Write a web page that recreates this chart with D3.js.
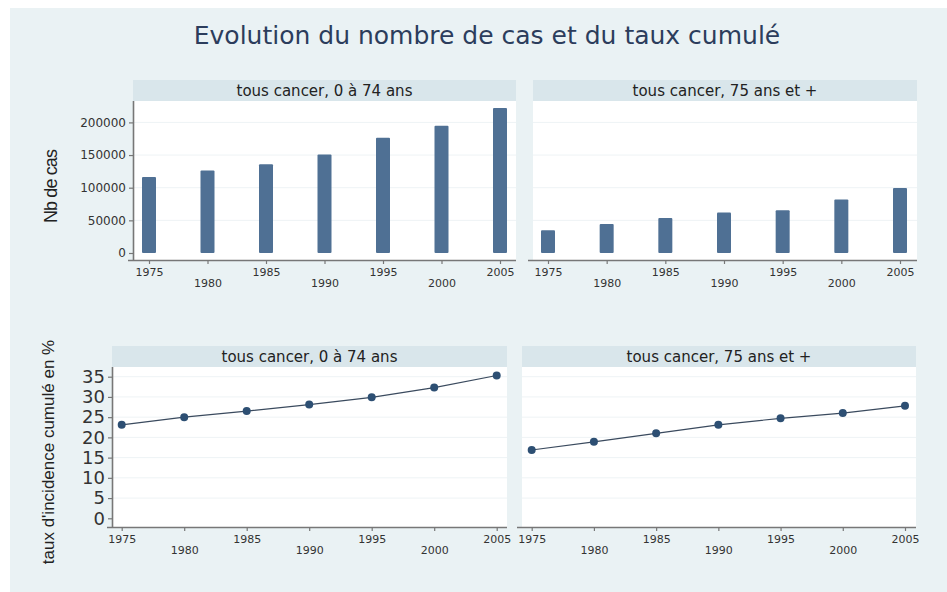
<!DOCTYPE html>
<html>
<head>
<meta charset="utf-8">
<script src="https://cdn.jsdelivr.net/npm/d3@7"></script>
<style>
    body { margin: 0; background: #fff; }
    svg { display: block; }
    .tick text { fill: #333; }
</style>
</head>
<body>
<svg id="chart" width="947" height="592"></svg>
<script>
// data
const years = [1975, 1980, 1985, 1990, 1995, 2000, 2005]
const casYoung = [116500, 126500, 136000, 151000, 176500, 195000, 222000]
const casOld = [35000, 44500, 53500, 62000, 65500, 82000, 99500]
const tauxYoung = [23.1, 25.0, 26.5, 28.1, 29.9, 32.3, 35.3]
const tauxOld = [16.9, 18.9, 21.0, 23.1, 24.7, 26.0, 27.8]
const casTicks = [0, 50000, 100000, 150000, 200000]
const tauxTicks = [0, 5, 10, 15, 20, 25, 30, 35]
const labelYoung = "tous cancer, 0 à 74 ans"
const labelOld = "tous cancer, 75 ans et +"

const svg = d3.select("#chart")
const font = "'DejaVu Sans', Verdana, sans-serif"

svg.append("rect")
    .attr("x", 10).attr("y", 8)
    .attr("width", 937).attr("height", 584)
    .attr("fill", "#eaf2f4")

svg.append("text")
    .attr("x", 487).attr("y", 44)
    .attr("text-anchor", "middle")
    .attr("font-family", font)
    .attr("font-size", 25)
    .attr("fill", "#2c3d5c")
    .text("Evolution du nombre de cas et du taux cumulé")

function panel(opt) {
    let g = svg.append("g")
    let x = d3.scaleLinear().domain([1975, 2005]).range(opt.xr)
    let y = d3.scaleLinear().domain(opt.ydom).range(opt.yr)

    // header strip
    g.append("rect")
        .attr("x", opt.left).attr("y", opt.top - 21)
        .attr("width", opt.right - opt.left).attr("height", 21)
        .attr("fill", "#d9e6eb")
    g.append("text")
        .attr("x", (opt.left + opt.right) / 2).attr("y", opt.top - 5)
        .attr("text-anchor", "middle")
        .attr("font-family", font).attr("font-size", 15)
        .attr("fill", "#222")
        .text(opt.label)

    // plot area
    g.append("rect")
        .attr("x", opt.left).attr("y", opt.top)
        .attr("width", opt.right - opt.left).attr("height", opt.bottom - opt.top)
        .attr("fill", "#fff")

    g.append("g")
        .selectAll("line")
        .data(opt.ticks.slice(1))
        .join("line")
        .attr("x1", opt.left).attr("x2", opt.right)
        .attr("y1", d => y(d)).attr("y2", d => y(d))
        .attr("stroke", "#eef3f5")
        .attr("stroke-width", 1)

    opt.draw(g, x, y)

    let xAxis = g.append("g")
        .attr("transform", `translate(0,${opt.bottom})`)
        .call(d3.axisBottom(x).tickValues(years).tickFormat(d3.format("d")).tickSize(4).tickPadding(4).tickSizeOuter(0))
    xAxis.select(".domain").attr("d", `M${opt.left - 5},0.5H${opt.right}`)
    xAxis.selectAll(".tick text")
        .attr("font-family", font).attr("font-size", 11)
        .attr("dy", (d, i) => i % 2 ? "1.75em" : "0.75em")

    if (opt.yAxis) {
        let yAxis = g.append("g")
            .attr("transform", `translate(${opt.left},0)`)
            .call(d3.axisLeft(y).tickValues(opt.ticks).tickFormat(d3.format("d")).tickSize(4).tickPadding(3).tickSizeOuter(0))
        yAxis.select(".domain").attr("d", `M0.5,${opt.top}V${opt.bottom}`)
        yAxis.selectAll(".tick text")
            .attr("font-family", font).attr("font-size", opt.ySize)
    }
    g.selectAll(".domain").attr("stroke", "#777").attr("stroke-width", 1.6)
    g.selectAll(".tick line").attr("stroke", "#777").attr("stroke-width", 1.2)
}

function bars(values) {
    return (g, x, y) => {
        g.append("g")
            .selectAll("rect")
            .data(values)
            .join("rect")
            .attr("x", (d, i) => x(years[i]) - 7)
            .attr("y", d => y(d))
            .attr("width", 14)
            .attr("height", d => y(0) - y(d))
            .attr("rx", 1)
            .attr("fill", "#4f7094")
    }
}

function line(values) {
    return (g, x, y) => {
        g.append("path")
            .datum(values)
            .attr("fill", "none")
            .attr("stroke", "#3a4a5e")
            .attr("stroke-width", 1.1)
            .attr("d", d3.line().x((d, i) => x(years[i])).y(d => y(d)))
        g.append("g")
            .selectAll("circle")
            .data(values)
            .join("circle")
            .attr("cx", (d, i) => x(years[i]))
            .attr("cy", d => y(d))
            .attr("r", 4)
            .attr("fill", "#2d4f73")
    }
}

const topRow = {top: 101, bottom: 260, ydom: [0, 200000], yr: [253, 122.4], ticks: casTicks, ySize: 12}
const botRow = {top: 367, bottom: 527, ydom: [0, 35], yr: [518.3, 376.7], ticks: tauxTicks, ySize: 18}

panel({...topRow, left: 133, right: 516, xr: [149, 500], label: labelYoung, yAxis: true, draw: bars(casYoung)})
panel({...topRow, left: 533, right: 917, xr: [548, 900], label: labelOld, yAxis: false, draw: bars(casOld)})
panel({...botRow, left: 112, right: 507, xr: [121.7, 496.7], label: labelYoung, yAxis: true, draw: line(tauxYoung)})
panel({...botRow, left: 522, right: 916, xr: [531.7, 905], label: labelOld, yAxis: false, draw: line(tauxOld)})

svg.append("text")
    .attr("transform", "translate(57,186) rotate(-90)")
    .attr("text-anchor", "middle")
    .attr("font-family", "'Liberation Sans', Arial, sans-serif")
    .attr("font-size", 18)
    .attr("textLength", 74)
    .attr("fill", "#222")
    .text("Nb de cas")

svg.append("text")
    .attr("transform", "translate(54,452) rotate(-90)")
    .attr("text-anchor", "middle")
    .attr("font-family", "'Liberation Sans', Arial, sans-serif")
    .attr("font-size", 17)
    .attr("fill", "#222")
    .text("taux d'incidence cumulé en %")
</script>
</body>
</html>
